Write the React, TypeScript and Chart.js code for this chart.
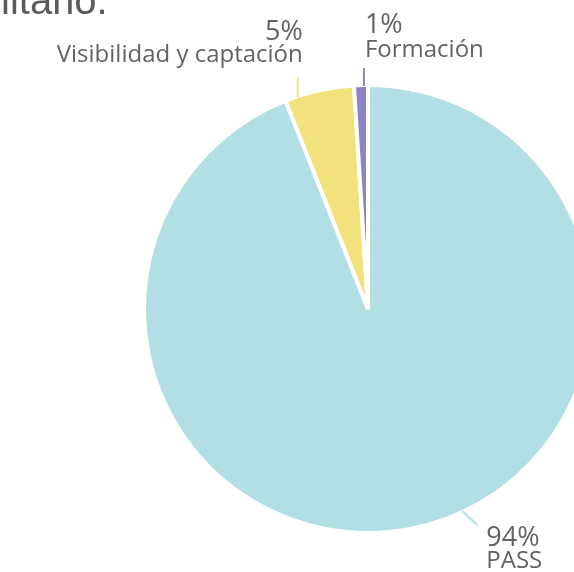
import React, { useEffect, useRef } from "react";
import { Chart, registerables } from "chart.js";

Chart.register(...registerables);

const categories = ["PASS", "Visibilidad y captación", "Formación"];
const values = [94, 5, 1];
const percentLabels = ["94%", "5%", "1%"];
const colors = ["#b2dfe4", "#f2e27b", "#8c85c2"];
const titleFragment = "litario.";

// label layout per slice: position along slice, leader vector, text placement
const labelLayout = [
  { frac: 0.458, ldx: 15, ldy: 14, align: "left", tdx: 9, b1: 21, b2: 43 },
  { frac: 0.18, ldx: 0, ldy: -20, align: "right", tdx: 5, b1: -37, b2: -15 },
  { frac: 0.71, ldx: 0, ldy: -18, align: "left", tdx: 1, b1: -35, b2: -11 },
];

const labelPlugin = {
  id: "pieLabels",
  afterDraw(chart: any) {
    const ctx = chart.ctx;
    const meta = chart.getDatasetMeta(0);
    ctx.save();
    meta.data.forEach((arc: any, i: number) => {
      const L = labelLayout[i];
      const { x, y, startAngle, endAngle, outerRadius } = arc.getProps(
        ["x", "y", "startAngle", "endAngle", "outerRadius"],
        true
      );
      const a = startAngle + (endAngle - startAngle) * L.frac;
      const r = outerRadius - 1;
      const sx = x + Math.cos(a) * r;
      const sy = y + Math.sin(a) * r;
      const ex = sx + L.ldx;
      const ey = sy + L.ldy;
      ctx.strokeStyle = colors[i];
      ctx.lineWidth = 2;
      ctx.beginPath();
      ctx.moveTo(sx, sy);
      ctx.lineTo(ex, ey);
      ctx.stroke();
      ctx.fillStyle = "#636363";
      ctx.textAlign = L.align;
      ctx.textBaseline = "alphabetic";
      ctx.font = "27px 'Open Sans'";
      ctx.fillText(percentLabels[i], ex + L.tdx, ey + L.b1);
      ctx.font = "24px 'Open Sans'";
      ctx.fillText(categories[i], ex + L.tdx, ey + L.b2);
    });
    ctx.fillStyle = "#5a5a5a";
    ctx.font = "40px 'Liberation Sans'";
    ctx.textAlign = "left";
    ctx.fillText(titleFragment, 1, 14);
    ctx.restore();
  },
};

export default function App() {
  const ref = useRef<HTMLCanvasElement | null>(null);
  useEffect(() => {
    document.body.style.margin = "0";
    const chart = new Chart(ref.current!, {
      type: "pie",
      data: {
        labels: categories,
        datasets: [
          {
            data: values,
            backgroundColor: colors,
            borderColor: "#ffffff",
            borderWidth: 4,
          },
        ],
      },
      options: {
        animation: false,
        responsive: false,
        layout: { padding: { left: 142, top: 83, right: 206, bottom: 37 } },
        plugins: { legend: { display: false }, tooltip: { enabled: false } },
      },
      plugins: [labelPlugin],
    });
    return () => chart.destroy();
  }, []);
  return (
    <div style={{ position: "fixed", left: 0, top: 0, width: 574, height: 572, overflow: "hidden", background: "#fff" }}>
      <canvas ref={ref} width={800} height={572} style={{ position: "absolute", left: 0, top: 0 }} />
    </div>
  );
}
